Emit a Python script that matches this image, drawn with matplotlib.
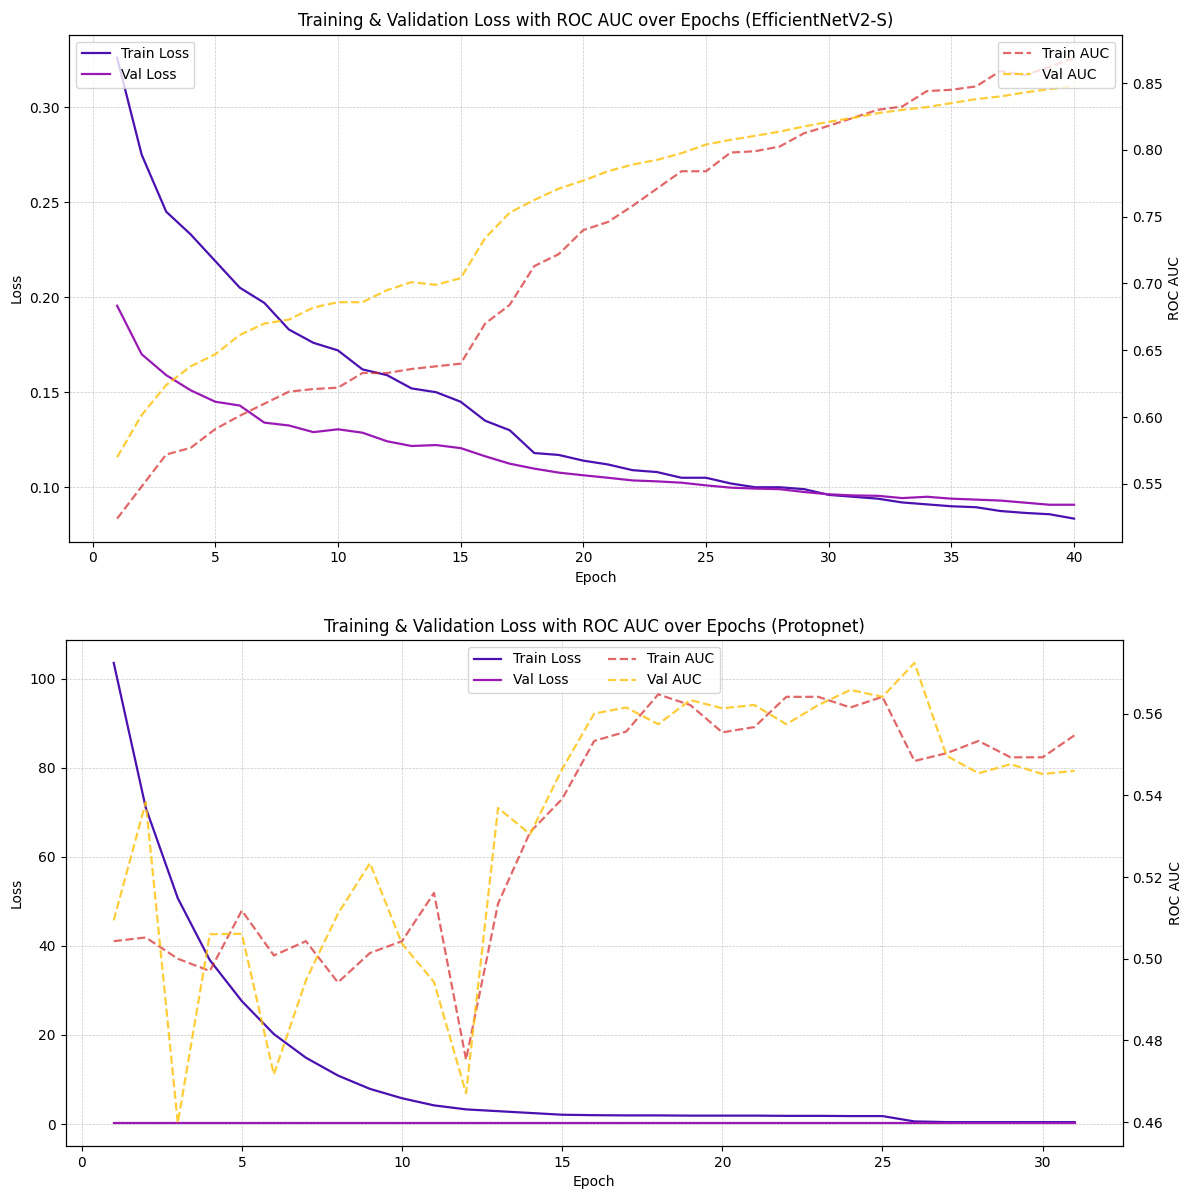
#!/usr/bin/env python3
"""Loss + ROC AUC curves for EfficientNetV2-S and Protopnet, two stacked panels."""

import matplotlib

matplotlib.use("Agg")
import matplotlib.pyplot as plt

# --- EfficientNetV2-S (40 epochs) ---
eff_epochs = list(range(1, 41))
eff_train_loss = [0.326, 0.275, 0.245, 0.233, 0.219, 0.205, 0.197, 0.183, 0.176, 0.172,
                  0.162, 0.159, 0.152, 0.150, 0.145, 0.135, 0.130, 0.118, 0.117, 0.114,
                  0.112, 0.109, 0.108, 0.105, 0.105, 0.102, 0.100, 0.100, 0.099, 0.096,
                  0.095, 0.094, 0.092, 0.091, 0.090, 0.0895, 0.0875, 0.0865, 0.0858, 0.0835]
eff_val_loss = [0.1955, 0.170, 0.159, 0.151, 0.145, 0.143, 0.134, 0.1325, 0.129, 0.1305,
                0.1287, 0.1242, 0.1217, 0.1222, 0.1206, 0.1163, 0.1124, 0.1098, 0.1077, 0.1063,
                0.105, 0.1036, 0.1031, 0.1024, 0.101, 0.0998, 0.0993, 0.099, 0.0975, 0.0963,
                0.0957, 0.0955, 0.0943, 0.095, 0.094, 0.0935, 0.093, 0.0919, 0.0908, 0.0908]
eff_train_auc = [0.524, 0.548, 0.572, 0.577, 0.591, 0.601, 0.610, 0.619, 0.621, 0.622,
                 0.633, 0.633, 0.636, 0.638, 0.640, 0.670, 0.684, 0.713, 0.722, 0.740,
                 0.746, 0.758, 0.771, 0.784, 0.784, 0.798, 0.799, 0.8025, 0.8125, 0.818,
                 0.824, 0.830, 0.8325, 0.844, 0.845, 0.8475, 0.859, 0.856, 0.862, 0.869]
eff_val_auc = [0.570, 0.6015, 0.624, 0.638, 0.647, 0.6615, 0.670, 0.673, 0.682, 0.686,
               0.686, 0.695, 0.701, 0.699, 0.704, 0.734, 0.753, 0.7625, 0.771, 0.777,
               0.784, 0.789, 0.7925, 0.7975, 0.804, 0.8075, 0.8105, 0.8137, 0.8175, 0.821,
               0.824, 0.8275, 0.830, 0.832, 0.835, 0.838, 0.840, 0.843, 0.8455, 0.8475]

# --- Protopnet (31 epochs) ---
proto_epochs = list(range(1, 32))
proto_train_loss = [103.5, 71.0, 50.7, 36.8, 27.6, 20.2, 14.9, 10.9, 7.9, 5.8,
                    4.2, 3.3, 2.9, 2.5, 2.1, 2.0, 1.95, 1.95, 1.9, 1.9,
                    1.9, 1.85, 1.85, 1.8, 1.8, 0.6, 0.45, 0.45, 0.45, 0.45, 0.45]
proto_val_loss = [0.25] * 31
proto_train_auc = [0.5043, 0.5052, 0.5000, 0.4970, 0.5118, 0.5008, 0.5043, 0.4942, 0.5014, 0.5043,
                   0.5161, 0.4753, 0.5135, 0.5310, 0.5391, 0.5533, 0.5556, 0.5647, 0.5621, 0.5554,
                   0.5567, 0.5641, 0.5641, 0.5615, 0.5641, 0.5484, 0.5503, 0.5533, 0.5493, 0.5493,
                   0.5547]
proto_val_auc = [0.5094, 0.5383, 0.4598, 0.5060, 0.5061, 0.4717, 0.4947, 0.5110, 0.5234, 0.5037,
                 0.4943, 0.4671, 0.5369, 0.5305, 0.5464, 0.5600, 0.5615, 0.5574, 0.5633, 0.5613,
                 0.5621, 0.5574, 0.5621, 0.5658, 0.5641, 0.5724, 0.5497, 0.5454, 0.5476, 0.5452,
                 0.5460]

C_TRAIN_LOSS = "#4a10b0"
C_VAL_LOSS = "#9a18b4"
C_TRAIN_AUC = "#d62728"
C_VAL_AUC = "#ffc107"


def panel(ax1, epochs, tl, vl, ta, va, title, combined_legend):
    l1, = ax1.plot(epochs, tl, color=C_TRAIN_LOSS, lw=1.6, label="Train Loss")
    l2, = ax1.plot(epochs, vl, color=C_VAL_LOSS, lw=1.6, label="Val Loss")
    ax1.set_xlabel("Epoch")
    ax1.set_ylabel("Loss")
    ax1.grid(True, linestyle="--", linewidth=0.5, alpha=0.7)

    ax2 = ax1.twinx()
    l3, = ax2.plot(epochs, ta, color=C_TRAIN_AUC, ls="--", lw=1.6, alpha=0.7, label="Train AUC")
    l4, = ax2.plot(epochs, va, color=C_VAL_AUC, ls="--", lw=1.6, alpha=0.8, label="Val AUC")
    ax2.set_ylabel("ROC AUC")

    if combined_legend:
        lines = [l1, l2, l3, l4]
        ax1.legend(lines, [l.get_label() for l in lines], loc="upper center", ncol=2)
    else:
        ax1.legend(loc="upper left")
        ax2.legend(loc="upper right")
    ax1.set_title(title)
    return ax2


fig = plt.figure(figsize=(11.9, 11.91), dpi=100)
ax_top = fig.add_axes([0.0582, 0.5452, 0.8846, 0.4257])
ax_bot = fig.add_axes([0.0552, 0.0378, 0.8882, 0.4249])

panel(ax_top, eff_epochs, eff_train_loss, eff_val_loss, eff_train_auc, eff_val_auc,
      "Training & Validation Loss with ROC AUC over Epochs (EfficientNetV2-S)", False)
panel(ax_bot, proto_epochs, proto_train_loss, proto_val_loss, proto_train_auc, proto_val_auc,
      "Training & Validation Loss with ROC AUC over Epochs (Protopnet)", True)

fig.savefig("out.png", dpi=100)
